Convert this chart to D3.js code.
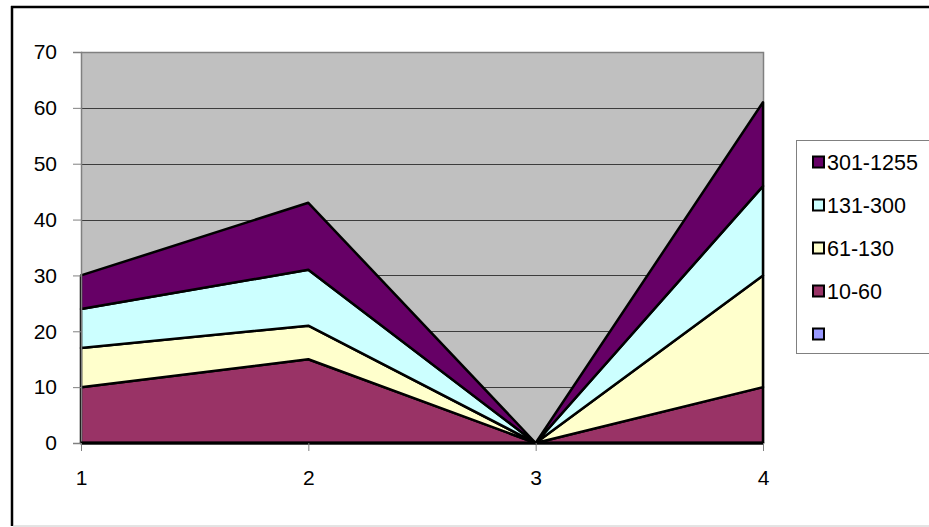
<!DOCTYPE html>
<html>
<head>
<meta charset="utf-8">
<script src="https://cdn.jsdelivr.net/npm/d3@7"></script>
<style>
  html, body { margin: 0; padding: 0; background: #ffffff; }
  svg { display: block; }
  text { font-family: "Liberation Sans", Arial, sans-serif; fill: #000; }
</style>
</head>
<body>
<svg id="chart" width="929" height="527"></svg>
<script>
// ---- data ----
const categories = [1, 2, 3, 4];
const seriesNames = ["", "10-60", "61-130", "131-300", "301-1255"];
const blankSeries = [0, 0, 0, 0];
const s10_60 = [10, 15, 0, 10];
const s61_130 = [7, 6, 0, 20];
const s131_300 = [7, 10, 0, 16];
const s301_1255 = [6, 12, 0, 15];
const yTicks = [0, 10, 20, 30, 40, 50, 60, 70];
const seriesColors = ["#9999FF", "#993366", "#FFFFCC", "#CCFFFF", "#660066"];

const seriesValues = [blankSeries, s10_60, s61_130, s131_300, s301_1255];
const table = categories.map((c, i) => {
  const row = { cat: c };
  seriesNames.forEach((n, k) => { row["s" + k] = seriesValues[k][i]; });
  return row;
});
const keys = seriesNames.map((n, k) => "s" + k);

const svg = d3.select("#chart");

// outer chart frame
svg.append("line").attr("x1", 12).attr("x2", 12).attr("y1", 6).attr("y2", 526)
  .attr("stroke", "#000").attr("stroke-width", 2.5);
svg.append("line").attr("x1", 11).attr("x2", 929).attr("y1", 7).attr("y2", 7)
  .attr("stroke", "#000").attr("stroke-width", 2.5);
svg.append("line").attr("x1", 13).attr("x2", 929).attr("y1", 526).attr("y2", 526)
  .attr("stroke", "#c8c8c8").attr("stroke-width", 1);

const plot = { left: 81, right: 763, top: 52, bottom: 443 };
const x = d3.scalePoint().domain(categories).range([plot.left, plot.right]);
const y = d3.scaleLinear().domain([0, 70]).range([plot.bottom, plot.top]);

// plot background
svg.append("rect")
  .attr("x", plot.left).attr("y", plot.top)
  .attr("width", plot.right - plot.left).attr("height", plot.bottom - plot.top)
  .attr("fill", "#C0C0C0");

// gridlines
svg.append("g").selectAll("line").data(yTicks.filter(t => t > 0 && t < 70)).join("line")
  .attr("x1", plot.left).attr("x2", plot.right)
  .attr("y1", d => Math.round(y(d)) + 0.5).attr("y2", d => Math.round(y(d)) + 0.5)
  .attr("stroke", "#3c3c3c").attr("stroke-width", 1);

// plot border (top/right)
svg.append("path")
  .attr("d", `M${plot.left},${plot.top + 0.5}H${plot.right + 0.5}V${plot.bottom}`)
  .attr("fill", "none").attr("stroke", "#808080").attr("stroke-width", 1.5);

// stacked areas
const stack = d3.stack().keys(keys);
const layers = stack(table);
const area = d3.area()
  .x(d => x(d.data.cat))
  .y0(d => y(d[0]))
  .y1(d => y(d[1]));

svg.append("g").selectAll("path").data(layers).join("path")
  .attr("d", area)
  .attr("fill", (d, i) => seriesColors[i])
  .attr("stroke", "#000")
  .attr("stroke-width", 2.5)
  .attr("stroke-linejoin", "round");

// y axis
const yAxis = d3.axisLeft(y).tickValues(yTicks).tickSize(8).tickPadding(16).tickFormat(d3.format("d"));
const gy = svg.append("g").attr("transform", `translate(${plot.left},0)`).call(yAxis);
gy.select(".domain").attr("stroke", "#808080").attr("stroke-width", 1.5);
gy.selectAll(".tick line").attr("stroke", "#808080");
gy.selectAll("text").attr("font-size", 21).attr("font-family", "Liberation Sans, Arial, sans-serif");

// x axis
const xAxis = d3.axisBottom(x).tickSize(8).tickPadding(19);
const gx = svg.append("g").attr("transform", `translate(0,${plot.bottom})`).call(xAxis);
gx.select(".domain").attr("stroke", "#000").attr("stroke-width", 3).attr("d", `M${plot.left},0H${plot.right}`);
gx.selectAll(".tick line").attr("stroke", "#808080");
gx.selectAll("text").attr("font-size", 21).attr("font-family", "Liberation Sans, Arial, sans-serif");

// legend
const legend = svg.append("g");
legend.append("rect").attr("x", 796.5).attr("y", 140.5).attr("width", 140).attr("height", 213)
  .attr("fill", "#fff").attr("stroke", "#808080").attr("stroke-width", 1);
const legendOrder = [4, 3, 2, 1, 0];
const rows = legend.selectAll("g.row").data(legendOrder).join("g")
  .attr("class", "row")
  .attr("transform", (d, i) => `translate(813,${162 + i * 43})`);
rows.append("rect").attr("x", 0).attr("y", -5.5).attr("width", 11).attr("height", 11)
  .attr("fill", d => seriesColors[d]).attr("stroke", "#000").attr("stroke-width", 2);
rows.append("text").attr("x", 14).attr("y", 0).attr("dy", "0.36em")
  .attr("font-size", 21.5)
  .text(d => seriesNames[d]);
</script>
</body>
</html>
